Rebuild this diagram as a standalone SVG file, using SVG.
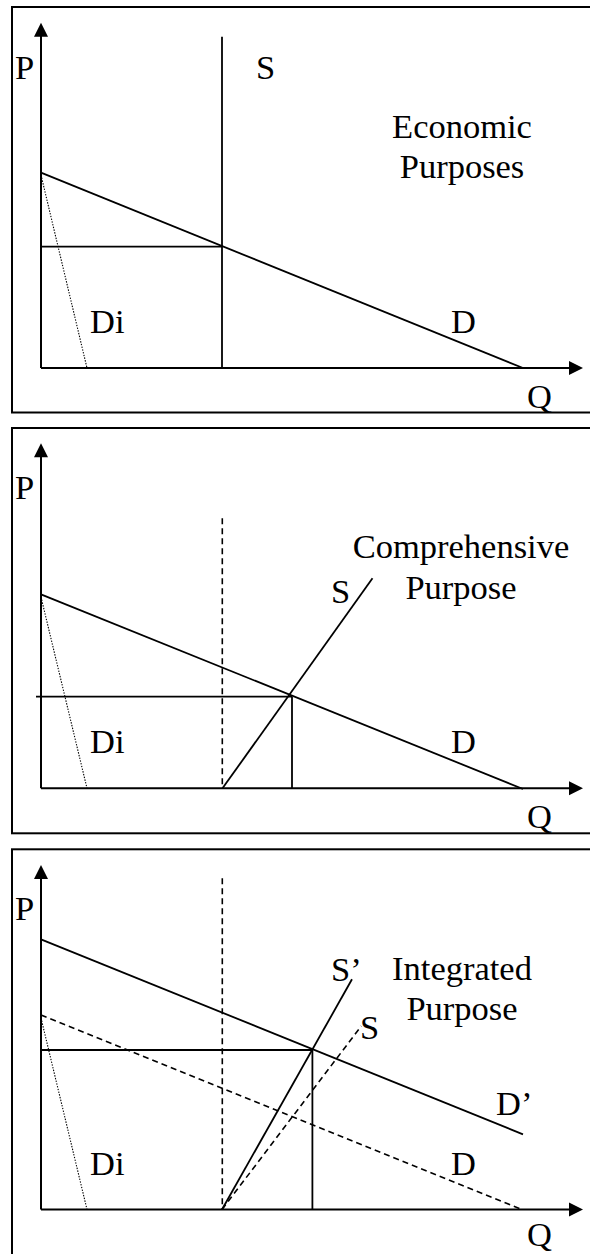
<svg xmlns="http://www.w3.org/2000/svg" width="590" height="1254" viewBox="0 0 590 1254">
<style>
.frame{fill:none;stroke:#000;stroke-width:2}
.axis{fill:none;stroke:#000;stroke-width:2}
.ln{fill:none;stroke:#000;stroke-width:1.8}
.dash{fill:none;stroke:#000;stroke-width:1.6;stroke-dasharray:6 4}
.dot{fill:none;stroke:#000;stroke-width:1.1;stroke-dasharray:1.4 1.4}
.head{fill:#000}
text{font-family:"Liberation Serif","Times New Roman",serif;font-size:34.5px;fill:#000}
.mid{text-anchor:middle}
</style>
<rect width="590" height="1254" fill="#fff"/>

<g id="panel1">
  <rect class="frame" x="12" y="7" width="600" height="405.5"/>
  <g id="axes1">
    <line class="axis" x1="41" y1="368" x2="41" y2="35"/>
    <polygon class="head" points="41,22.7 34,36.7 48,36.7"/>
    <line class="axis" x1="41" y1="368" x2="570" y2="368"/>
    <polygon class="head" points="583,368 569,361 569,375"/>
  </g>
  <g id="curves1">
    <line class="ln" x1="222" y1="36.7" x2="222" y2="368"/>
    <line class="ln" x1="41" y1="172.7" x2="523" y2="368"/>
    <line class="ln" x1="41" y1="246.7" x2="222" y2="246.7"/>
    <line class="dot" x1="41" y1="175" x2="87" y2="368"/>
  </g>
  <g id="labels1">
    <text x="15" y="79">P</text>
    <text x="256" y="79">S</text>
    <text class="mid" x="462" y="138">Economic</text>
    <text class="mid" x="462" y="178">Purposes</text>
    <text x="90" y="333">Di</text>
    <text x="451" y="333">D</text>
    <text x="527" y="408">Q</text>
  </g>
</g>

<g id="panel2">
  <rect class="frame" x="12" y="428" width="600" height="405.3"/>
  <g id="axes2">
    <line class="axis" x1="41" y1="788.3" x2="41" y2="456"/>
    <polygon class="head" points="41,443.3 34,457.3 48,457.3"/>
    <line class="axis" x1="41" y1="788.3" x2="570" y2="788.3"/>
    <polygon class="head" points="583,788.3 569,781.3 569,795.3"/>
  </g>
  <g id="curves2">
    <line class="dash" x1="222.3" y1="518.3" x2="222.3" y2="788.3"/>
    <line class="ln" x1="41" y1="594.3" x2="523" y2="789"/>
    <line class="ln" x1="36" y1="696.7" x2="292" y2="696.7"/>
    <line class="ln" x1="292" y1="696.7" x2="292" y2="788.3"/>
    <line class="ln" x1="222.5" y1="788.3" x2="372.5" y2="578.3"/>
    <line class="dot" x1="41" y1="597" x2="87" y2="788.3"/>
  </g>
  <g id="labels2">
    <text x="15" y="499.3">P</text>
    <text x="331" y="603.3">S</text>
    <text class="mid" x="461" y="558.3">Comprehensive</text>
    <text class="mid" x="461" y="599.3">Purpose</text>
    <text x="90" y="753.3">Di</text>
    <text x="451" y="753.3">D</text>
    <text x="527" y="828">Q</text>
  </g>
</g>

<g id="panel3">
  <rect class="frame" x="12" y="849.3" width="600" height="420"/>
  <g id="axes3">
    <line class="axis" x1="41" y1="1209.5" x2="41" y2="878"/>
    <polygon class="head" points="41,865 34,879 48,879"/>
    <line class="axis" x1="41" y1="1209.5" x2="570" y2="1209.5"/>
    <polygon class="head" points="583,1209.5 569,1202.5 569,1216.5"/>
  </g>
  <g id="curves3">
    <line class="dash" x1="222.3" y1="878.3" x2="222.3" y2="1209.5"/>
    <line class="ln" x1="41" y1="939.3" x2="523" y2="1134.3"/>
    <line class="dash" x1="41" y1="1015" x2="522" y2="1209.5"/>
    <line class="ln" x1="41" y1="1050" x2="312.4" y2="1050"/>
    <line class="ln" x1="312.4" y1="1050" x2="312.4" y2="1209.5"/>
    <line class="ln" x1="222" y1="1209.5" x2="352" y2="979.3"/>
    <line class="dash" x1="222" y1="1209.5" x2="361.3" y2="1026"/>
    <line class="dot" x1="41" y1="1018" x2="87" y2="1209.5"/>
  </g>
  <g id="labels3">
    <text x="15" y="920">P</text>
    <text x="331" y="980.5">S’</text>
    <text class="mid" x="462" y="980">Integrated</text>
    <text class="mid" x="462" y="1020">Purpose</text>
    <text x="360" y="1038.5">S</text>
    <text x="496" y="1115">D’</text>
    <text x="90" y="1175">Di</text>
    <text x="451" y="1175">D</text>
    <text x="527" y="1245.5">Q</text>
  </g>
</g>
</svg>
